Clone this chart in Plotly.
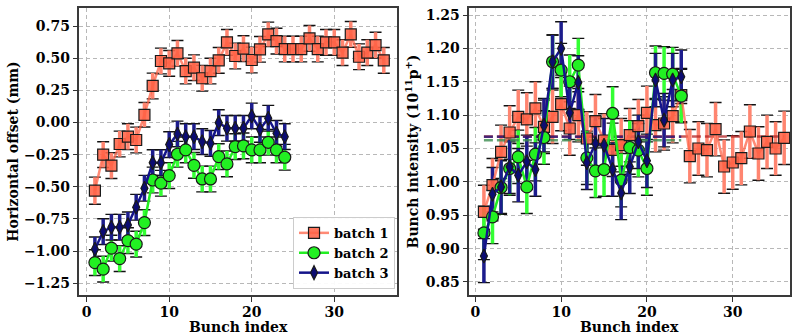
import plotly.graph_objects as go

# ---------------- data ----------------
bunch_1 = list(range(1, 37))
bunch_23 = list(range(1, 25))

offset_b1 = [-0.53, -0.25, -0.335, -0.167, -0.11, -0.136, 0.06, 0.284, 0.478, 0.46,
             0.538, 0.40, 0.426, 0.344, 0.40, 0.483, 0.623, 0.517, 0.574, 0.486,
             0.569, 0.685, 0.633, 0.571, 0.571, 0.571, 0.654, 0.571, 0.623, 0.623,
             0.543, 0.685, 0.511, 0.543, 0.602, 0.483]
offset_b2 = [-1.089, -1.14, -0.977, -1.058, -0.918, -0.946, -0.778, -0.447, -0.472, -0.413,
             -0.247, -0.213, -0.333, -0.439, -0.439, -0.265, -0.322, -0.188, -0.182, -0.213,
             -0.213, -0.154, -0.213, -0.27]
offset_b3 = [-0.985, -0.848, -0.814, -0.814, -0.796, -0.659, -0.511, -0.312, -0.312, -0.172,
             -0.089, -0.11, -0.11, -0.149, -0.162, -0.001, -0.045, -0.045, -0.045, 0.051,
             -0.053, 0.033, -0.084, -0.11]
offset_err_b1 = [0.105, 0.10, 0.10, 0.10, 0.10, 0.10, 0.095, 0.10, 0.10, 0.10,
                 0.10, 0.10, 0.10, 0.10, 0.10, 0.10, 0.10, 0.10, 0.10, 0.10,
                 0.10, 0.095, 0.10, 0.10, 0.10, 0.10, 0.10, 0.10, 0.10, 0.10,
                 0.10, 0.10, 0.10, 0.10, 0.10, 0.10]
offset_err_b2 = [0.10, 0.10, 0.10, 0.10, 0.10, 0.10, 0.10, 0.10, 0.10, 0.10,
                 0.10, 0.10, 0.10, 0.10, 0.10, 0.10, 0.10, 0.10, 0.10, 0.10,
                 0.10, 0.10, 0.10, 0.10]
offset_err_b3 = [0.095, 0.10, 0.10, 0.10, 0.10, 0.10, 0.10, 0.10, 0.10, 0.10,
                 0.10, 0.10, 0.10, 0.10, 0.10, 0.10, 0.10, 0.10, 0.10, 0.10,
                 0.10, 0.10, 0.10, 0.10]

intens_b1 = [0.955, 0.995, 1.045, 1.074, 1.0975, 1.0935, 1.11, 1.0825, 1.0975, 1.1165,
             1.08, 1.10, 1.065, 1.091, 1.062, 1.048, 1.055, 1.07, 1.0835, 1.1035,
             1.085, 1.0875, 1.0985, 1.13, 1.0385, 1.05, 1.0475, 1.079, 1.023, 1.029,
             1.0355, 1.0755, 1.0425, 1.06, 1.05, 1.066]
intens_b2 = [0.9235, 0.9475, 0.9915, 1.02, 1.0375, 0.9925, 1.0415, 1.0665, 1.18, 1.1675,
             1.15, 1.175, 1.036, 1.0165, 1.0185, 1.1025, 1.0025, 1.0515, 1.0475, 1.02,
             1.1635, 1.1625, 1.1615, 1.1285]
intens_b3 = [0.889, 0.9815, 0.9925, 1.0225, 1.01, 1.03, 1.0185, 1.085, 1.18, 1.20,
             1.1035, 1.149, 1.0285, 1.0575, 1.055, 1.0185, 0.9835, 1.0225, 1.06, 1.0315,
             1.1525, 1.0925, 1.1525, 1.1575]
intens_err_b1 = [0.04, 0.04, 0.04, 0.04, 0.04, 0.04, 0.04, 0.04, 0.04, 0.04,
                 0.04, 0.04, 0.04, 0.04, 0.04, 0.04, 0.04, 0.04, 0.04, 0.04,
                 0.04, 0.04, 0.04, 0.04, 0.04, 0.04, 0.04, 0.04, 0.04, 0.04,
                 0.04, 0.04, 0.04, 0.04, 0.04, 0.04]
intens_err_b2 = [0.04, 0.04, 0.04, 0.04, 0.04, 0.04, 0.04, 0.04, 0.04, 0.04,
                 0.04, 0.04, 0.04, 0.04, 0.04, 0.04, 0.04, 0.04, 0.04, 0.04,
                 0.04, 0.04, 0.04, 0.04]
intens_err_b3 = [0.04, 0.04, 0.04, 0.04, 0.04, 0.04, 0.04, 0.04, 0.04, 0.04,
                 0.04, 0.04, 0.04, 0.04, 0.04, 0.04, 0.04, 0.04, 0.04, 0.04,
                 0.04, 0.04, 0.04, 0.04]

mean_levels = [1.068, 1.0625, 1.0675]   # batch 1, 2, 3 dashed reference lines
mean_spans = [(1, 36), (1, 24), (1, 24)]

names = ["batch 1", "batch 2", "batch 3"]
yticks_left = [-1.25, -1.0, -0.75, -0.5, -0.25, 0.0, 0.25, 0.5, 0.75]
yticks_right = [0.85, 0.90, 0.95, 1.00, 1.05, 1.10, 1.15, 1.20, 1.25]
xticks = [0, 10, 20, 30]
x_title = "Bunch index"

# ---------------- styles ----------------
FONT = "DejaVu Serif"
styles = [
    dict(marker_color="rgba(255,99,71,0.88)", line_color="rgba(255,99,71,0.75)",
         bar_color="#ff8570", symbol="square", size=11),
    dict(marker_color="#22f022", line_color="#22ee22",
         bar_color="#33ff33", symbol="circle", size=12),
    dict(marker_color="#0c0c72", line_color="#14148a",
         bar_color="#1c1c8c", symbol="diamond-tall", size=10),
]

fig = go.Figure()

panels = [
    ("x", "y", [bunch_1, bunch_23, bunch_23], [offset_b1, offset_b2, offset_b3],
     [offset_err_b1, offset_err_b2, offset_err_b3], True),
    ("x2", "y2", [bunch_1, bunch_23, bunch_23], [intens_b1, intens_b2, intens_b3],
     [intens_err_b1, intens_err_b2, intens_err_b3], False),
]

for xa, ya, xs, ys, errs, legend in panels:
    # error bars: black caps first, then coloured vertical bars on top
    for i in range(3):
        fig.add_trace(go.Scatter(
            x=xs[i], y=ys[i], xaxis=xa, yaxis=ya, mode="markers",
            marker=dict(size=1, color="rgba(0,0,0,0)"), showlegend=False, hoverinfo="skip",
            error_y=dict(type="data", array=errs[i], color="#111111", thickness=1.4, width=6)))
        fig.add_trace(go.Scatter(
            x=xs[i], y=ys[i], xaxis=xa, yaxis=ya, mode="markers",
            marker=dict(size=1, color="rgba(0,0,0,0)"), showlegend=False, hoverinfo="skip",
            error_y=dict(type="data", array=errs[i], color=styles[i]["bar_color"],
                         thickness=3.5, width=0)))
    if xa == "x2":
        dash_colors = ["rgba(178,34,34,0.75)", "rgba(60,140,80,0.8)", "rgba(40,20,120,0.8)"]
        for i in range(3):
            x0, x1 = mean_spans[i]
            fig.add_trace(go.Scatter(
                x=[x0, x1], y=[mean_levels[i], mean_levels[i]], xaxis=xa, yaxis=ya,
                mode="lines", line=dict(color=dash_colors[i], width=2.5, dash="9px,4px"),
                showlegend=False, hoverinfo="skip"))
    for i in range(3):
        s = styles[i]
        fig.add_trace(go.Scatter(
            x=xs[i], y=ys[i], xaxis=xa, yaxis=ya, mode="lines+markers", name=names[i],
            showlegend=legend,
            line=dict(color=s["line_color"], width=2.5),
            marker=dict(symbol=s["symbol"], size=s["size"], color=s["marker_color"],
                        line=dict(color="#1a1a1a", width=1.2))))

axis_common = dict(
    showline=True, mirror=True, linecolor="#3a3a3a", linewidth=1.5,
    ticks="outside", ticklen=5, tickwidth=1.2, tickcolor="#333",
    showgrid=True, gridcolor="#b8b8b8", gridwidth=1, griddash="4px,3px",
    zeroline=False,
    tickfont=dict(family=FONT, size=14, color="black", weight="bold"),
    title_font=dict(family=FONT, size=14, color="black", weight="bold"),
)

title_font = dict(family=FONT, size=14, color="black", weight="bold")

fig.update_layout(
    width=794, height=334, margin=dict(l=0, r=0, t=0, b=0),
    paper_bgcolor="white", plot_bgcolor="white",
    xaxis=dict(domain=[0.1001, 0.5], range=[-0.87, 37.6], tickvals=xticks,
               ticklabelstandoff=-2, anchor="y", **axis_common),
    yaxis=dict(domain=[0.1168, 0.976], range=[-1.341, 0.89], tickvals=yticks_left,
               tickformat=".2f", title=dict(text="Horizontal offset (mm)", standoff=2),
               anchor="x", **axis_common),
    xaxis2=dict(domain=[0.5911, 0.995], range=[-0.7, 36.68], tickvals=xticks,
                ticklabelstandoff=-2, anchor="y2", **axis_common),
    yaxis2=dict(domain=[0.1168, 0.976], range=[0.8305, 1.2605], tickvals=yticks_right,
                tickformat=".2f",
                title=dict(text="Bunch intensity (10<sup>11</sup>p<sup>+</sup>)", standoff=4),
                anchor="x2", **axis_common),
    legend=dict(x=0.4975, y=0.135, xanchor="right", yanchor="bottom",
                bgcolor="rgba(255,255,255,0.92)", bordercolor="#cccccc", borderwidth=1,
                font=dict(family=FONT, size=13, color="black", weight="bold"),
                tracegroupgap=0, itemwidth=30),
    annotations=[
        dict(text=x_title, xref="x domain", yref="paper", x=0.5, y=1 - 326.5 / 334,
             xanchor="center", yanchor="middle", showarrow=False, font=title_font),
        dict(text=x_title, xref="x2 domain", yref="paper", x=0.5, y=1 - 326.5 / 334,
             xanchor="center", yanchor="middle", showarrow=False, font=title_font),
    ],
)

fig.write_html("out.html")
